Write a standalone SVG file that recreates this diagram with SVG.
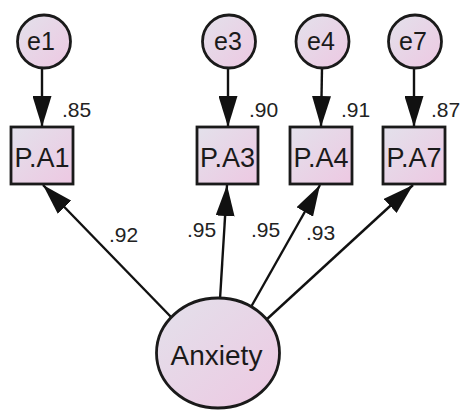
<svg xmlns="http://www.w3.org/2000/svg" width="461" height="410" viewBox="0 0 461 410">
<defs>
<linearGradient id="g" x1="0" y1="0" x2="1" y2="1">
<stop offset="0" stop-color="#e3e1eb"/>
<stop offset="1" stop-color="#edc8e2"/>
</linearGradient>
<marker id="ah" viewBox="0 0 31 19" refX="31" refY="9.5" markerWidth="31" markerHeight="19" markerUnits="userSpaceOnUse" orient="auto">
<path d="M0,0 L31,9.5 L0,19 z" fill="#111"/>
</marker>
<style>
.n{fill:url(#g);stroke:#1a1a1a;stroke-width:2.8}
.t{font-family:"Liberation Sans",Arial,sans-serif;fill:#1a1a1a;text-anchor:middle}
.e{stroke:#111;stroke-width:2.4;fill:none;marker-end:url(#ah)}
.l{font-family:"Liberation Sans",Arial,sans-serif;fill:#222;font-size:21px}
</style>
</defs>
<rect width="461" height="410" fill="#fff"/>
<g id="connectors">
<line class="e" x1="42" y1="68" x2="42" y2="127"/>
<line class="e" x1="228" y1="68" x2="228" y2="127"/>
<line class="e" x1="322" y1="68" x2="321" y2="127"/>
<line class="e" x1="414" y1="68" x2="414" y2="127"/>
<line class="e" x1="172" y1="318" x2="43" y2="185"/>
<line class="e" x1="220" y1="299" x2="227" y2="185"/>
<line class="e" x1="251" y1="307" x2="320" y2="185"/>
<line class="e" x1="266" y1="320" x2="413" y2="185"/>
</g>
<g id="labels">
<text class="l" x="62" y="117">.85</text>
<text class="l" x="249" y="117">.90</text>
<text class="l" x="341" y="117">.91</text>
<text class="l" x="431" y="117">.87</text>
<text class="l" x="109" y="242">.92</text>
<text class="l" x="187" y="237">.95</text>
<text class="l" x="251" y="237">.95</text>
<text class="l" x="306" y="240">.93</text>
</g>
<g id="e1"><circle class="n" cx="44" cy="41.5" r="26.5"/><text class="t" x="41" y="50" font-size="25">e1</text></g>
<g id="e3"><circle class="n" cx="229" cy="41.5" r="26.5"/><text class="t" x="228" y="50" font-size="25">e3</text></g>
<g id="e4"><circle class="n" cx="322.5" cy="41.5" r="26.5"/><text class="t" x="321" y="50" font-size="25">e4</text></g>
<g id="e7"><circle class="n" cx="415" cy="41.5" r="26.5"/><text class="t" x="413" y="50" font-size="25">e7</text></g>
<g id="PA1"><rect class="n" x="11" y="127" width="62" height="57"/><text class="t" x="42" y="167" font-size="27">P.A1</text></g>
<g id="PA3"><rect class="n" x="197" y="127" width="61" height="57"/><text class="t" x="227.5" y="167" font-size="27">P.A3</text></g>
<g id="PA4"><rect class="n" x="290" y="127" width="62" height="57"/><text class="t" x="321" y="167" font-size="27">P.A4</text></g>
<g id="PA7"><rect class="n" x="383" y="127" width="62" height="57"/><text class="t" x="414" y="167" font-size="27">P.A7</text></g>
<g id="Anxiety"><ellipse class="n" cx="218" cy="353" rx="61.5" ry="55"/><text class="t" x="216.5" y="365" font-size="28">Anxiety</text></g>
</svg>
